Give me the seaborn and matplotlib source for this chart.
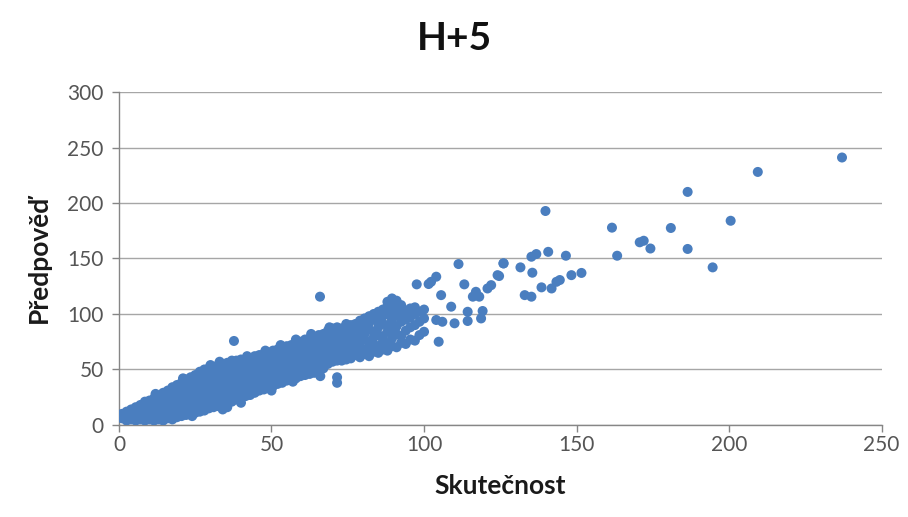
import matplotlib
matplotlib.use("Agg")
import matplotlib.pyplot as plt
import seaborn as sns
import pandas as pd

# ---- data ----
# dense band, segment 1 (Skutečnost 1-20)
seg1_actual = [1, 1,
               2.5, 2.5, 2.5,
               4, 4, 4,
               5.5, 5.5, 5.5, 5.5,
               7, 7, 7, 7,
               8.5, 8.5, 8.5, 8.5, 8.5,
               10, 10, 10, 10,
               11.5, 11.5, 11.5, 11.5, 11.5,
               13, 13, 13, 13, 13,
               14.5, 14.5, 14.5, 14.5, 14.5, 14.5,
               16, 16, 16, 16, 16, 16,
               17.5, 17.5, 17.5, 17.5, 17.5, 17.5, 17.5,
               19, 19, 19, 19, 19, 19, 19]
seg1_pred = [6, 10,
             4, 9, 12,
             5, 10, 14,
             4, 8, 13, 16,
             5, 10, 15, 18,
             4, 8, 13, 18, 21,
             5, 10, 16, 22,
             4, 8, 13, 19, 24,
             5, 11, 16, 21, 26,
             4, 8, 14, 19, 24, 29,
             6, 11, 17, 22, 27, 31,
             5, 9, 14, 20, 25, 30, 34,
             7, 12, 17, 23, 28, 33, 36]

# dense band, segment 2 (Skutečnost 20-40)
seg2_actual = [20.5] * 7 + [22] * 8 + [23.5] * 8 + [25] * 8 + [26.5] * 9 + [28] * 9 + \
              [29.5] * 8 + [31] * 9 + [32.5] * 9 + [34] * 9 + [35.5] * 9 + [37] * 9 + \
              [38.5] * 8 + [40] * 8
seg2_pred = [8, 14, 19, 25, 30, 35, 38,
             9, 11, 16, 21, 27, 32, 37, 41,
             10, 14, 19, 24, 29, 34, 39, 43,
             11, 16, 21, 27, 32, 37, 41, 45,
             12, 14, 19, 24, 30, 35, 40, 44, 48,
             13, 17, 22, 27, 33, 38, 43, 47, 50,
             15, 20, 25, 30, 36, 41, 46, 51,
             16, 18, 23, 28, 34, 39, 44, 49, 52,
             17, 21, 26, 31, 37, 42, 47, 51, 54,
             14, 19, 24, 29, 34, 40, 45, 50, 55,
             16, 20, 26, 31, 37, 43, 48, 53, 56,
             21, 24, 29, 34, 40, 46, 51, 55, 58,
             23, 27, 32, 38, 43, 49, 54, 58,
             24, 30, 35, 41, 46, 52, 56, 59]

# dense band, segment 3 (Skutečnost 40-63)
seg3_actual = [41.5] * 8 + [43] * 8 + [44.5] * 8 + [46] * 7 + [47.5] * 8 + [49] * 8 + \
              [50.5] * 7 + [52] * 8 + [53.5] * 8 + [55] * 7 + [56.5] * 8 + [58] * 8 + \
              [59.5] * 7 + [61] * 8 + [62.5] * 8
seg3_pred = [26, 28, 33, 38, 44, 49, 54, 59,
             27, 31, 36, 42, 47, 52, 57, 60,
             29, 34, 39, 45, 50, 55, 60, 62,
             31, 37, 42, 48, 53, 58, 63,
             32, 35, 40, 46, 51, 56, 61, 64,
             34, 38, 43, 49, 54, 59, 63, 65,
             35, 41, 46, 52, 57, 62, 67,
             37, 40, 44, 50, 55, 60, 65, 68,
             38, 42, 47, 53, 58, 63, 68, 70,
             40, 45, 50, 56, 61, 66, 71,
             41, 44, 48, 54, 59, 64, 69, 72,
             42, 47, 52, 57, 62, 67, 72, 74,
             44, 50, 55, 60, 65, 70, 75,
             45, 48, 53, 58, 63, 68, 73, 77,
             46, 51, 56, 61, 66, 71, 76, 78]

# dense band, segment 4 (Skutečnost 64-100)
seg4_actual = [64] * 7 + [65.5] * 8 + [67] * 7 + [68.5] * 7 + [70] * 7 + [71.5] * 9 + \
              [73] * 7 + [74.5] * 7 + [76] * 6 + [77.5] * 6 + [79] * 6 + [80.5] * 6 + \
              [82] * 6 + [83.5] * 6 + [85] * 6 + [86.5] * 6 + [88] * 7 + [89.5] * 7 + \
              [91] * 6 + [92.5] * 5 + [94] * 4 + [95.5] * 4 + [97] * 4 + [98.5] * 3 + \
              [100] * 3
seg4_pred = [47, 53, 59, 64, 69, 74, 79,
             48, 52, 57, 62, 67, 72, 77, 81,
             51, 56, 61, 66, 71, 76, 82,
             55, 60, 65, 70, 75, 80, 85,
             57, 62, 67, 72, 77, 82, 87,
             58, 64, 70, 75, 80, 85, 88, 43, 38,
             58, 63, 68, 73, 78, 83, 87,
             59, 65, 70, 76, 81, 86, 89,
             60, 67, 71, 79, 83, 90,
             63, 66, 74, 78, 87, 91,
             61, 70, 75, 81, 85, 94,
             64, 68, 77, 82, 89, 96,
             62, 71, 74, 86, 92, 98,
             66, 73, 79, 84, 95, 100,
             65, 70, 81, 88, 93, 102,
             68, 75, 80, 91, 98, 104,
             67, 73, 84, 90, 100, 107, 111,
             71, 78, 87, 95, 104, 110, 114,
             70, 82, 89, 99, 106, 112,
             74, 80, 93, 101, 108,
             73, 85, 95, 103,
             77, 88, 97, 105,
             76, 90, 100, 106,
             81, 93, 102,
             84, 96, 104]

# points sticking out of the band's edges
edge_actual = [21, 30, 42, 48, 58, 63, 69, 74.5, 24, 40, 50, 57, 66, 12, 33, 53]
edge_pred = [42, 54, 62, 67, 77, 82, 88, 91, 8, 20, 31, 39, 44, 28, 57, 72]

# scattered points
sparse_actual = [37.7, 65.9, 97.6, 101.5, 102.3, 104, 111.3, 113.2, 105.6, 108.9,
                 104, 106, 110, 104.8, 114.3, 119.2, 114.3, 118.7, 117, 116, 118.1,
                 120.8, 122, 124.1, 126, 124.6, 126.1, 131.6, 135.5, 133, 135.2,
                 138.5, 141.8, 143.4, 144.5, 148.3, 151.6, 135.2, 136.8, 140.7,
                 139.8, 146.5, 161.6, 163.3, 170.7, 172, 174.2, 180.9, 186.4,
                 186.4, 194.6, 200.5, 209.4, 237]
sparse_pred = [75.7, 115.6, 126.7, 127, 129, 133.6, 145, 126.7, 117, 106.6,
               94.6, 93, 91.6, 75, 102, 102.7, 93.7, 96, 120, 115.6, 115.6,
               123, 126, 135, 145.6, 134.2, 145.6, 142, 137.2, 117, 115.6,
               124, 123, 129, 130.6, 135, 137, 151.6, 154, 156,
               192.8, 152.5, 177.8, 152.5, 164.6, 166, 159, 177.5, 158.6,
               210, 142, 184, 228, 241]

x_ticks = [0, 50, 100, 150, 200, 250]
y_ticks = [0, 50, 100, 150, 200, 250, 300]

actual = seg1_actual + seg2_actual + seg3_actual + seg4_actual + edge_actual + sparse_actual
pred = seg1_pred + seg2_pred + seg3_pred + seg4_pred + edge_pred + sparse_pred
df = pd.DataFrame({"Skutečnost": actual, "Předpověď": pred})

# ---- drawing ----
sns.set_theme(style="white")
plt.rcParams["font.family"] = ["Lato", "DejaVu Sans"]

fig = plt.figure(figsize=(9.08, 5.17), dpi=100)
ax = fig.add_axes([0.131, 0.178, 0.840, 0.644])

sns.scatterplot(data=df, x="Skutečnost", y="Předpověď", ax=ax,
                color="#4A7EBF", edgecolor="none", linewidth=0,
                s=52, zorder=3, legend=False)

ax.set_xlim(0, 250)
ax.set_ylim(0, 300)
ax.set_xticks(x_ticks)
ax.set_yticks(y_ticks)
ax.yaxis.grid(True, color="#A6A6A6", linewidth=1.0, zorder=0)
ax.xaxis.grid(False)
ax.set_axisbelow(True)

for side in ("top", "right"):
    ax.spines[side].set_visible(False)
for side in ("left", "bottom"):
    ax.spines[side].set_color("#868686")
    ax.spines[side].set_linewidth(1.0)

ax.tick_params(axis="both", which="major", direction="out", length=5,
               width=1, color="#868686", labelsize=15, labelcolor="#555555",
               bottom=True, left=True)
ax.tick_params(axis="x", pad=2)
ax.tick_params(axis="y", pad=6)

ax.set_xlabel("Skutečnost", fontsize=19, fontweight="bold", color="#1a1a1a",
              labelpad=14)
ax.set_ylabel("Předpověď", fontsize=19, fontweight="bold", color="#1a1a1a",
              labelpad=12)
fig.text(0.5, 0.926, "H+5", ha="center", va="center", fontsize=28,
         fontweight="bold", color="#111111")

fig.savefig("out.png", dpi=100, facecolor="white")
